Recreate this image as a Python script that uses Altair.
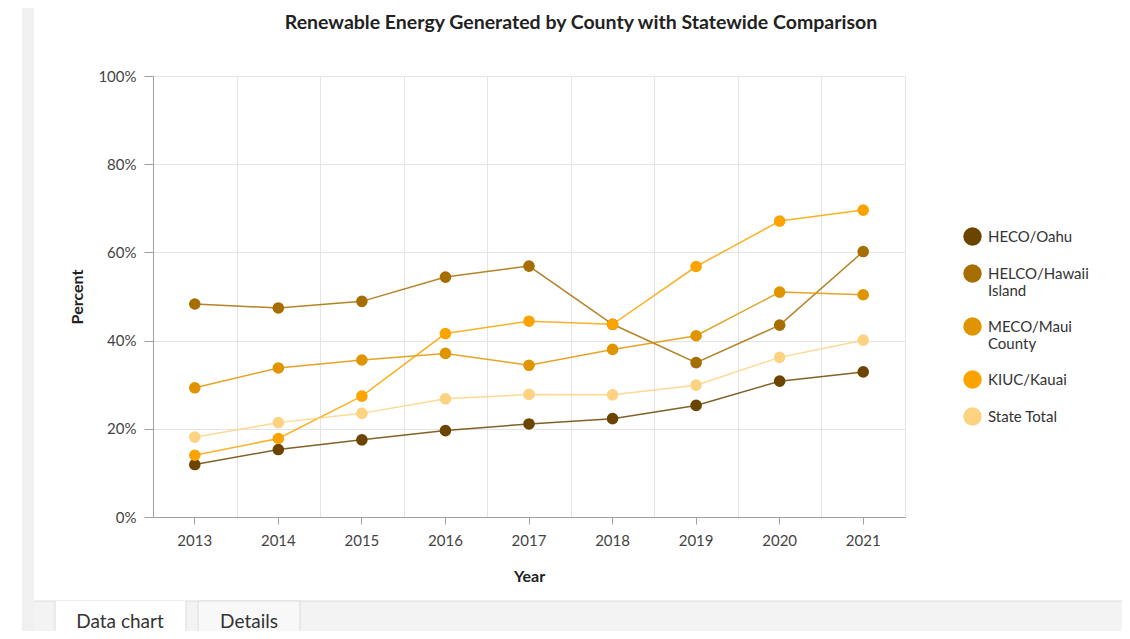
import altair as alt
import pandas as pd

years = [2013, 2014, 2015, 2016, 2017, 2018, 2019, 2020, 2021]
series_names = ["HECO/Oahu", "HELCO/Hawaii Island", "MECO/Maui County", "KIUC/Kauai", "State Total"]
heco_oahu = [11.9, 15.3, 17.5, 19.6, 21.1, 22.3, 25.3, 30.8, 32.9]
helco_hawaii = [48.3, 47.4, 48.9, 54.4, 56.9, 43.7, 35.0, 43.5, 60.2]
meco_maui = [29.3, 33.8, 35.6, 37.1, 34.4, 38.0, 41.1, 51.0, 50.4]
kiuc_kauai = [14.0, 17.8, 27.4, 41.6, 44.4, 43.7, 56.8, 67.1, 69.6]
state_total = [18.1, 21.4, 23.5, 26.8, 27.8, 27.7, 29.9, 36.2, 40.1]
series_colors = ["#6b4500", "#a66d00", "#e09400", "#fca300", "#fdd281"]
tab_labels = ["Data chart", "Details"]
chart_title = ["Renewable Energy Generated by County with Statewide Comparison"]

rows = []
for name, vals in zip(series_names, [heco_oahu, helco_hawaii, meco_maui, kiuc_kauai, state_total]):
    for yr, v in zip(years, vals):
        rows.append({"Year": str(yr), "Series": name, "Percent": v / 100.0})
df = pd.DataFrame(rows)

FONT = "Lato"
color_scale = alt.Scale(domain=series_names, range=series_colors)
x_scale = alt.Scale(type="band", paddingInner=0, paddingOuter=0)
y_scale = alt.Scale(domain=[0, 1])

y_enc = alt.Y(
    "Percent:Q",
    scale=y_scale,
    axis=alt.Axis(
        title="Percent", format=".0%", values=[0, 0.2, 0.4, 0.6, 0.8, 1.0],
        grid=True, gridColor="#e4e4e4", domainColor="#a0a0a0", tickColor="#a0a0a0",
        tickSize=9, labelPadding=8, labelFont=FONT, labelFontSize=15, labelColor="#444444",
        titleFont=FONT, titleFontSize=16, titleFontWeight="bold", titleColor="#222222",
        titlePadding=12,
    ),
)

legend_expr = ("datum.label == 'HELCO/Hawaii Island' ? ['HELCO/Hawaii', 'Island'] : "
               "datum.label == 'MECO/Maui County' ? ['MECO/Maui', 'County'] : datum.label")


def make_legend():
    return alt.Legend(
        title=None, orient="none", legendX=810, legendY=151, padding=0,
        symbolType="circle", symbolSize=340, symbolStrokeWidth=0, symbolOpacity=1,
        labelFont=FONT, labelFontSize=15, labelColor="#333333", labelExpr=legend_expr,
        labelLimit=200, rowPadding=18, labelOffset=6)


lines = alt.Chart(df).mark_line(strokeWidth=1.5, opacity=0.85).encode(
    x=alt.X("Year:O", scale=x_scale, axis=alt.Axis(
        orient="bottom", tickBand="extent", grid=True, gridColor="#e4e4e4",
        labels=False, ticks=False, domain=False, title=None)),
    y=y_enc,
    color=alt.Color("Series:N", scale=color_scale, legend=make_legend()),
    detail="Series:N",
)

points = alt.Chart(df).mark_circle(size=135, opacity=1).encode(
    x=alt.X("Year:O", scale=x_scale, axis=alt.Axis(
        orient="bottom", grid=False, domainColor="#a0a0a0", tickColor="#a0a0a0",
        tickSize=7, labelPadding=9, labelAngle=0, labelFont=FONT, labelFontSize=15,
        labelColor="#444444", title="Year", titleFont=FONT, titleFontSize=16,
        titleFontWeight="bold", titleColor="#222222", titlePadding=20)),
    y=alt.Y("Percent:Q", scale=y_scale),
    color=alt.Color("Series:N", scale=color_scale, legend=make_legend()),
)

one = pd.DataFrame({"k": [0]})


def box(x, x2, y, y2, fill, stroke=None):
    kw = {"fill": fill}
    if stroke:
        kw.update(stroke=stroke, strokeWidth=1)
    else:
        kw.update(strokeWidth=0)
    return alt.Chart(one).mark_rect(**kw).encode(
        x=alt.value(x), x2=alt.value(x2), y=alt.value(y), y2=alt.value(y2))


def vline(x, y, y2, color):
    return alt.Chart(one).mark_rule(color=color, strokeWidth=1).encode(
        x=alt.value(x), y=alt.value(y), y2=alt.value(y2))


def hline(x, x2, y, color):
    return alt.Chart(one).mark_rule(color=color, strokeWidth=1).encode(
        x=alt.value(x), x2=alt.value(x2), y=alt.value(y))


deco = [
    box(-131, -119, -68, 560, "#f0f0f0"),
    box(-119, 975, 525, 560, "#f3f3f3"),
    hline(-119, 975, 525, "#dcdcdc"),
    box(-98, 33, 525, 560, "#ffffff"),
    vline(-98, 525, 560, "#dcdcdc"),
    vline(33, 525, 560, "#dcdcdc"),
    box(45, 147, 525, 560, "#f8f8f8", "#dcdcdc"),
]

tabs_df = pd.DataFrame({"label": tab_labels, "px": [-33, 96]})
tabs = alt.Chart(tabs_df).mark_text(
    font=FONT, fontSize=19, color="#333333", align="center", baseline="middle"
).encode(x=alt.X("px:Q", scale=None), y=alt.value(546), text="label:N")

title_df = pd.DataFrame({"label": chart_title})
title = alt.Chart(title_df).mark_text(
    font=FONT, fontSize=19.5, fontWeight="bold", color="#222222", align="center", baseline="middle"
).encode(x=alt.value(428), y=alt.value(-53), text="label:N")

chart = alt.layer(*deco, tabs, title, lines, points).resolve_axis(x="independent").properties(
    width=752, height=441,
    autosize=alt.AutoSizeParams(type="none"),
    padding={"left": 145, "top": 68, "right": 217, "bottom": 114},
).configure_view(stroke=None)

chart.save("out.html", embed_options={"renderer": "svg", "actions": False})
